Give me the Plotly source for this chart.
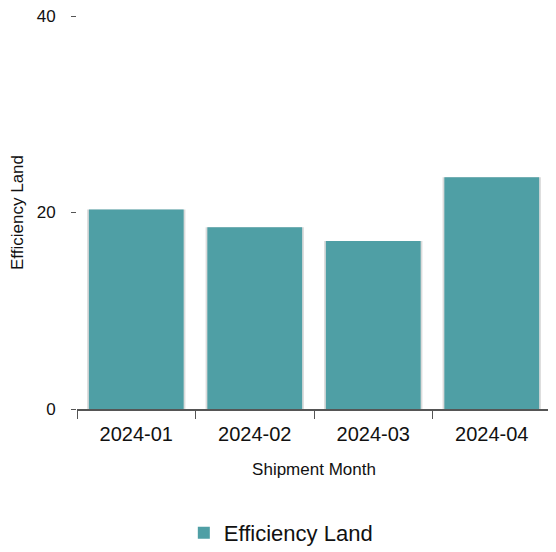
import plotly.graph_objects as go

months = ["2024-01", "2024-02", "2024-03", "2024-04"]
efficiency_land = [20.3, 18.5, 17.1, 23.6]

fig = go.Figure()
# soft shadow behind bars
fig.add_trace(go.Bar(
    x=months, y=efficiency_land, width=0.83,
    marker=dict(color="rgba(0,0,0,0.14)", line=dict(width=0)),
    showlegend=False, hoverinfo="skip",
))
fig.add_trace(go.Bar(
    x=months, y=efficiency_land, name="Efficiency Land", width=0.8,
    marker=dict(color="#4f9fa5", line=dict(width=0)),
))

fig.update_layout(
    width=556, height=552,
    margin=dict(l=69, r=13, t=8, b=151, autoexpand=False),
    barmode="overlay",
    plot_bgcolor="white", paper_bgcolor="white",
    font=dict(family="Liberation Sans, Arial, sans-serif", color="#111"),
    showlegend=True,
    legend=dict(orientation="h", x=0.43, xanchor="center",
                yref="container", y=0.049, yanchor="middle",
                font=dict(size=22)),
    xaxis=dict(
        type="category",
        title=dict(text="Shipment Month", font=dict(size=17), standoff=19),
        tickfont=dict(size=20),
        ticklabelstandoff=6,
        showline=True, linecolor="#555", linewidth=1.5,
        ticks="outside", tickson="boundaries", ticklen=8, tickcolor="#555",
        showgrid=False,
    ),
    yaxis=dict(
        title=dict(text="Efficiency Land", font=dict(size=17), standoff=14),
        range=[0, 40], tickvals=[0, 20, 40],
        tickfont=dict(size=17),
        ticks="outside", ticklen=5, tickcolor="#555",
        ticklabelstandoff=12, ticklabeloverflow="allow",
        showline=False, showgrid=False, zeroline=False,
    ),
)

fig.write_html("out.html")
